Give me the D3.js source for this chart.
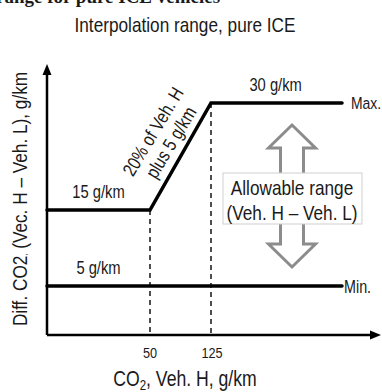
<!DOCTYPE html>
<html>
<head>
<meta charset="utf-8">
<script src="https://cdn.jsdelivr.net/npm/d3@7"></script>
<style>
  body { margin: 0; background: #fff; }
  text { font-family: "Liberation Sans", Arial, sans-serif; fill: #1a1a1a; }
</style>
</head>
<body>
<script>
const width = 382
const height = 392
const narrow = 0.82 // squeeze to look like Arial Narrow

// schematic data
const interpLine = [[0, 15], [50, 15], [125, 30], [200, 30]]
const minLine = [[0, 5], [200, 5]]
const breakpoints = [50, 125]
const tickLabels = ["50", "125"]
const levelLabels = [
  {x: 25, y: 15, text: "15 g/km"},
  {x: 162, y: 30, text: "30 g/km"},
  {x: 25, y: 5, text: "5 g/km"}
]

// piecewise scales (schematic, not proportional)
const x = d3.scaleLinear()
    .domain([0, 50, 125, 200, 240])
    .range([47, 150, 211, 342, 381])
const y = d3.scaleLinear()
    .domain([0, 5, 15, 30, 40])
    .range([335, 286, 210, 103, 64])

const svg = d3.select("body").append("svg")
    .attr("viewBox", [0, 0, width, height])
    .attr("width", width)
    .attr("height", height)

const label = (px, py, size, anchor = "middle", rot = 0) => svg.append("text")
    .attr("transform", `translate(${px},${py}) rotate(${rot}) scale(${narrow},1)`)
    .attr("text-anchor", anchor)
    .style("font-size", size + "px")

// cut-off heading from the page above
svg.append("text")
    .attr("x", -4).attr("y", 3)
    .style("font-family", "'Liberation Serif', 'Times New Roman', serif")
    .style("font-weight", "bold")
    .style("font-size", "19px")
    .text("range for pure ICE vehicles")

label(185, 32, 21).text("Interpolation  range, pure ICE")

// dashed guides
svg.append("g")
  .selectAll("line")
  .data(breakpoints)
  .join("line")
    .attr("x1", d => x(d)).attr("x2", d => x(d))
    .attr("y1", d => y(interpLine.find(p => p[0] === d)[1]))
    .attr("y2", y(0))
    .attr("stroke", "#222")
    .attr("stroke-width", 1.6)
    .attr("stroke-dasharray", "5,4")

// axes
const axes = svg.append("g").attr("stroke", "#000").attr("stroke-width", 2.5)
axes.append("line").attr("x1", x(0)).attr("x2", x(240) - 8).attr("y1", y(0)).attr("y2", y(0))
axes.append("line").attr("x1", x(0)).attr("x2", x(0)).attr("y1", y(0)).attr("y2", y(40) + 8)
svg.append("path")
    .attr("d", `M${x(240)},${y(0)} L${x(240) - 11},${y(0) - 4.5} L${x(240) - 11},${y(0) + 4.5}Z`)
svg.append("path")
    .attr("d", `M${x(0)},${y(40)} L${x(0) - 4.5},${y(40) + 11} L${x(0) + 4.5},${y(40) + 11}Z`)

breakpoints.forEach((d, i) => label(x(d) + (i ? 1 : 0), 358, 15.5).text(tickLabels[i]))

// lines
const line = d3.line().x(d => x(d[0])).y(d => y(d[1]))
svg.append("g")
  .selectAll("path")
  .data([interpLine, minLine])
  .join("path")
    .attr("d", line)
    .attr("fill", "none")
    .attr("stroke", "#000")
    .attr("stroke-width", 3.5)
    .attr("stroke-linecap", "round")
    .attr("stroke-linejoin", "miter")

levelLabels.forEach(d => label(x(d.x), y(d.y) - 12, 18).text(d.text))

label(351, y(30) + 6, 17, "start").text("Max.")
label(344, y(5) + 7, 17.5, "start").text("Min.")

// slope label
const slopeLab = label(162, 137, 19, "middle", -59)
slopeLab.append("tspan").attr("x", 0).attr("dy", -4).text("20% of Veh. H")
slopeLab.append("tspan").attr("x", 0).attr("dy", 21).text("plus 5 g/km")

// double arrow for allowable range
const ax = 292, aTop = y(30) + 22, aBot = y(5) - 19
const hw = 23.5, sw = 11.5, hh = 23
svg.append("path")
    .attr("d", `M${ax},${aTop} L${ax + hw},${aTop + hh} L${ax + sw},${aTop + hh} L${ax + sw},${aBot - hh}
      L${ax + hw},${aBot - hh} L${ax},${aBot} L${ax - hw},${aBot - hh} L${ax - sw},${aBot - hh}
      L${ax - sw},${aTop + hh} L${ax - hw},${aTop + hh}Z`)
    .attr("fill", "#fff")
    .attr("stroke", "#8c8c8c")
    .attr("stroke-width", 3)

svg.append("rect")
    .attr("x", 223).attr("y", 173).attr("width", 139).attr("height", 51)
    .attr("fill", "#fff")
    .attr("stroke", "#cfcfcf")
    .attr("stroke-width", 1)
label(292, 195, 21).text("Allowable  range")
label(292, 220, 21).text("(Veh. H \u2013 Veh. L)")

// axis titles
const yTitle = label(27, 199, 21, "middle", -90)
yTitle.append("tspan").text("Diff. CO2")
yTitle.append("tspan").style("font-size", "9px").text(",")
yTitle.append("tspan").text(" (Vec. H \u2013 Veh. L), g/km")

const xTitle = label(185, 386, 21.5)
xTitle.append("tspan").text("CO")
xTitle.append("tspan").attr("dy", 3.5).style("font-size", "14px").text("2")
xTitle.append("tspan").attr("dy", -3.5).text(", Veh. H, g/km")
</script>
</body>
</html>
